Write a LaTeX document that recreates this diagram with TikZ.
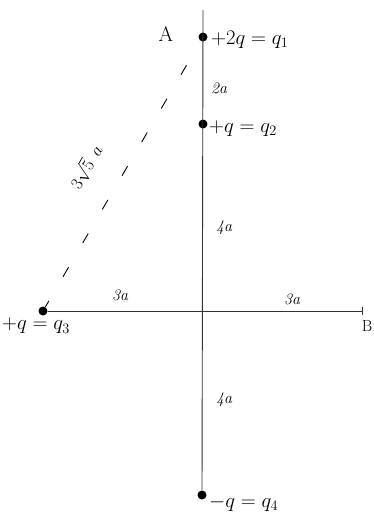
\documentclass[tikz,border=0pt]{standalone}
\begin{document}
\begin{tikzpicture}[x=1pt,y=-1pt,
  charge/.style={circle,fill=black,inner sep=0pt,minimum size=9pt},
  lbl/.style={inner sep=1pt,font=\fontsize{21}{25}\selectfont},
  small/.style={inner sep=1pt,font=\fontsize{16}{19}\selectfont\itshape},
  axis/.style={line width=0.9pt,black!80}]
\useasboundingbox (0,0) rectangle (374,531);
\coordinate (top) at (203,10);
\coordinate (B) at (362,311);
\node[charge] (q1) at (203,37) {};
\node[charge] (q2) at (203,124) {};
\node[charge] (q3) at (43,311) {};
\node[charge] (q4) at (202,495) {};
\draw[axis] (top) -- (q4);
\draw[axis] (q3) -- (B);
\draw[axis] (B) ++(0,-4) -- ++(0,8);
\draw[line width=0.9pt,dash pattern=on 11pt off 28pt,dash phase=4pt] (q3) -- (q1);
\node[lbl] (A) at (166,34) {A};
\node[lbl,anchor=west] (l1) at (210,40) {$+2q=q_1$};
\node[lbl,anchor=west] (l2) at (208,129) {$+q=q_2$};
\node[lbl,anchor=north west] (l3) at (1,317) {$+q=q_3$};
\node[lbl,anchor=west] (l4) at (208,503) {$-q=q_4$};
\node[lbl] (lB) at (367,326) {\fontsize{16}{19}\selectfont B};
\node[small] (d1) at (219,88) {2a};
\node[small] (d2) at (224,228) {4a};
\node[small] (d3) at (120,295) {3a};
\node[small] (d4) at (292,299) {3a};
\node[small] (d5) at (224,400) {4a};
\node[small,rotate=60,inner sep=2pt] (d6) at (86,167) {$3\sqrt{5}\;\,a$};
\end{tikzpicture}
\end{document}
